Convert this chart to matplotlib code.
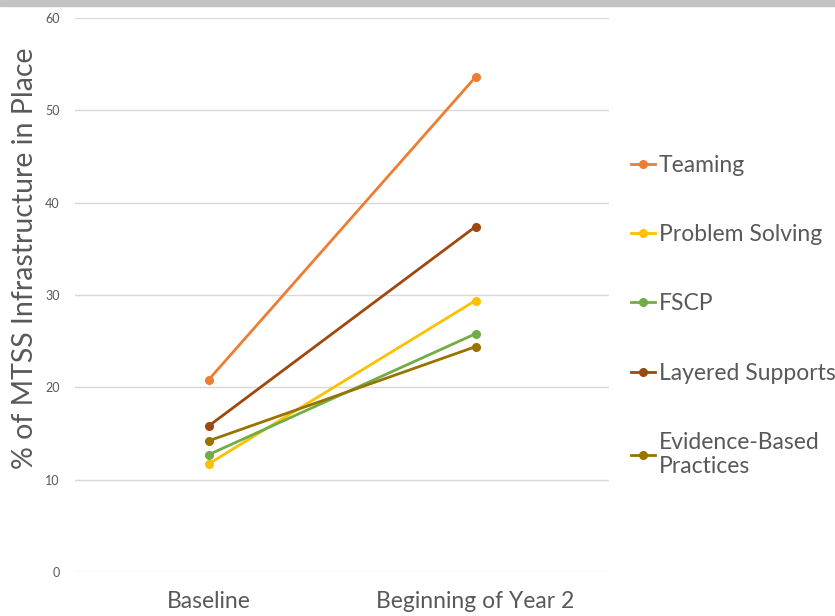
import matplotlib.pyplot as plt
from matplotlib.patches import Rectangle

categories = ['Baseline', 'Beginning of Year 2']
series_names = ['Teaming', 'Problem Solving', 'FSCP', 'Layered Supports',
                'Evidence-Based\nPractices']
teaming = [20.8, 53.6]
problem_solving = [11.7, 29.4]
fscp = [12.7, 25.8]
layered = [15.8, 37.4]
evidence = [14.2, 24.4]
colors = ['#ED7D31', '#FFC000', '#70AD47', '#9E480E', '#997300']

plt.rcParams['font.family'] = ['Lato', 'DejaVu Sans']
txt = '#595959'

fig = plt.figure(figsize=(8.35, 6.16), dpi=100)
ax = fig.add_axes([75/835, (616-572)/616, (609-75)/835, (572-18)/616])

xs = [0.25, 0.75]
for name, vals, c in zip(series_names,
                         [teaming, problem_solving, fscp, layered, evidence],
                         colors):
    ax.plot(xs, vals, color=c, lw=2.0, marker='o', ms=5.5, label=name)

ax.set_xlim(0, 1)
ax.set_ylim(0, 60)
ax.set_yticks(range(0, 61, 10))
ax.set_xticks(xs)
ax.set_xticklabels(categories, fontsize=16.5, color=txt)
ax.tick_params(axis='y', labelsize=9, labelcolor=txt, length=0, pad=11)
ax.tick_params(axis='x', length=0, pad=14)
ax.grid(axis='y', color='#d9d9d9', lw=1)
ax.set_axisbelow(True)
for s in ax.spines.values():
    s.set_visible(False)

ax.set_ylabel('% of MTSS Infrastructure in Place', fontsize=20.5, color=txt)
ax.yaxis.set_label_coords(-37 / 534, (572 - 258) / 554)

fig.legend(loc='upper left', bbox_to_anchor=(622/835, 1 - 146/616),
           frameon=False, fontsize=16.5, labelcolor=txt, handlelength=1.05,
           handletextpad=0.15, labelspacing=2.1, borderaxespad=0)

# gray band along the top edge
fig.patches.append(Rectangle((0, 1 - 6/616), 1, 6/616, transform=fig.transFigure,
                             color='#c3c3c3', zorder=0))

fig.savefig('out.png', dpi=100)
